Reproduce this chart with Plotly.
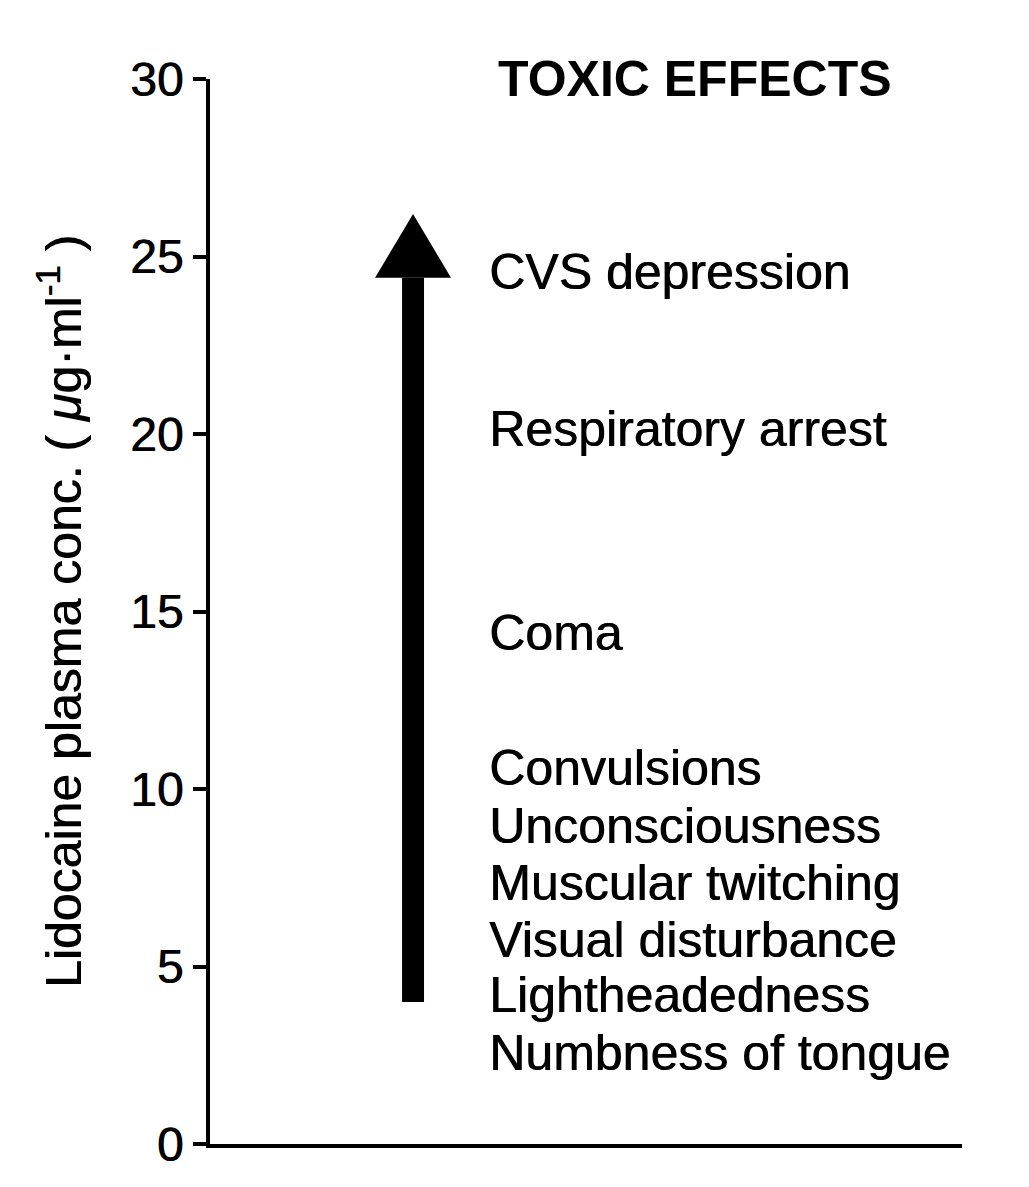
import plotly.graph_objects as go

# ---- data ----
effects = ["CVS depression", "Respiratory arrest", "Coma", "Convulsions",
           "Unconsciousness", "Muscular twitching", "Visual disturbance",
           "Lightheadedness", "Numbness of tongue"]
effect_conc = [24.55, 20.15, 14.4, 10.6, 8.95, 7.35, 5.75, 4.2, 2.55]
y_ticks = [0, 5, 10, 15, 20, 25, 30]
arrow_start = 4.0      # µg/ml
arrow_head_base = 24.4
arrow_tip = 26.2

FONT = "Liberation Sans, Arial, Helvetica, sans-serif"
SHADOW = "0.7px 0px 0px black"

fig = go.Figure()

ax_x = 0.27       # horizontal position of the arrow (in [0,1] x-axis units)
shaft_hw = 0.0146
head_hw = 0.0505

# shaft
fig.add_trace(go.Scatter(
    x=[ax_x - shaft_hw, ax_x + shaft_hw, ax_x + shaft_hw, ax_x - shaft_hw, ax_x - shaft_hw],
    y=[arrow_start, arrow_start, arrow_head_base, arrow_head_base, arrow_start],
    mode="lines", fill="toself", fillcolor="black", line=dict(color="black", width=0),
    hoverinfo="skip", showlegend=False))
# head
fig.add_trace(go.Scatter(
    x=[ax_x - head_hw, ax_x + head_hw, ax_x, ax_x - head_hw],
    y=[arrow_head_base, arrow_head_base, arrow_tip, arrow_head_base],
    mode="lines", fill="toself", fillcolor="black", line=dict(color="black", width=0),
    hoverinfo="skip", showlegend=False))

# effect labels
for name, c in zip(effects, effect_conc):
    fig.add_annotation(x=0.368, y=c, xref="x", yref="y", text=name, showarrow=False,
                       xanchor="left", yanchor="middle",
                       font=dict(family=FONT, size=50, color="black", shadow=SHADOW))

fig.add_annotation(x=0.38, y=30.0, xref="x", yref="y", text="<b>TOXIC EFFECTS</b>",
                   showarrow=False, xanchor="left", yanchor="middle",
                   font=dict(family=FONT, size=50, color="black"))

fig.update_layout(
    width=1029, height=1187,
    margin=dict(l=210, r=67, t=79, b=43),
    paper_bgcolor="white", plot_bgcolor="white",
    showlegend=False,
    xaxis=dict(range=[0, 1], showgrid=False, zeroline=False, showticklabels=False,
               ticks="", showline=True, linecolor="black", linewidth=4, fixedrange=True),
    yaxis=dict(range=[0, 30], tickvals=y_ticks, ticktext=[str(v) for v in y_ticks],
               showgrid=False, zeroline=False, showline=True, linecolor="black", linewidth=4,
               ticks="outside", ticklen=13, tickwidth=4, tickcolor="black",
               tickfont=dict(family=FONT, size=48, color="black", shadow=SHADOW),
               ticklabelstandoff=0,
               title=dict(text="Lidocaine plasma conc. ( <i>μ</i>g·ml<sup>-1</sup> )",
                          font=dict(family=FONT, size=50, color="black", shadow=SHADOW),
                          standoff=34)),
)

fig.write_html("out.html")
